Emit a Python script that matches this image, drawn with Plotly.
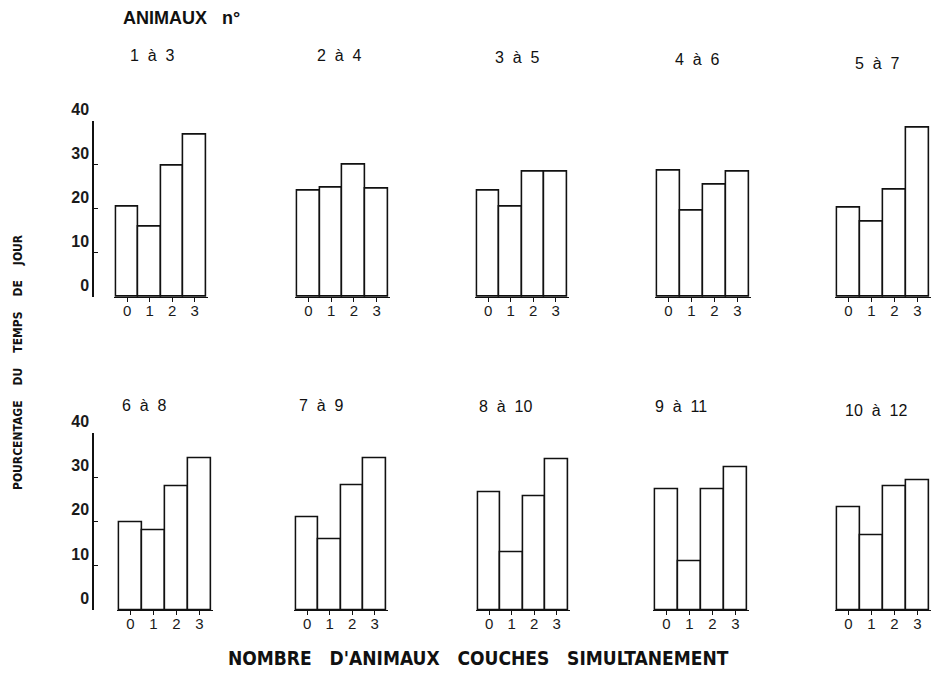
import plotly.graph_objects as go

W, H = 935, 695

categories = ["0", "1", "2", "3"]
cat_pos = [0, 1, 2, 3]

panel_titles = ["1 à 3", "2 à 4", "3 à 5", "4 à 6", "5 à 7",
                "6 à 8", "7 à 9", "8 à 10", "9 à 11", "10 à 12"]

values_1_3 = [20.5, 15.9, 29.9, 36.9]
values_2_4 = [24.1, 24.7, 30.0, 24.6]
values_3_5 = [24.1, 20.4, 28.5, 28.5]
values_4_6 = [28.6, 19.5, 25.5, 28.4]
values_5_7 = [20.2, 17.0, 24.3, 38.5]
values_6_8 = [19.9, 18.1, 28.1, 34.3]
values_7_9 = [21.0, 16.0, 28.2, 34.3]
values_8_10 = [26.6, 13.1, 25.8, 34.1]
values_9_11 = [27.4, 11.1, 27.3, 32.4]
values_10_12 = [23.2, 17.0, 28.1, 29.3]

all_values = [values_1_3, values_2_4, values_3_5, values_4_6, values_5_7,
              values_6_8, values_7_9, values_8_10, values_9_11, values_10_12]

y_ticks = [0, 10, 20, 30, 40]
y_ticktext = ["0", "10", "20", "30", "40"]


def fx(px):
    return px / W


def fy(py):
    return 1 - py / H


# pixel layout of panels (bar extents) and rows (baseline, top of axis)
x_extents = [(116, 206), (297, 388), (477, 567), (657, 749), (837, 929),
             (119, 211), (296, 386), (478, 568), (655, 747), (837, 929)]
row_extents = [(297, 120.7), (610, 433.3)]
pad = 0.08  # extra x-range on each side so outer bar edges are not clipped

fig = go.Figure()
layout = dict(
    width=W, height=H, autosize=False,
    margin=dict(l=0, r=0, t=0, b=0, pad=0, autoexpand=False),
    paper_bgcolor="white", plot_bgcolor="white",
    showlegend=False, bargap=0,
    font=dict(family="Liberation Sans, Arial, sans-serif", color="#1a1a1a"),
)

for i, vals in enumerate(all_values):
    n = i + 1
    sfx = "" if n == 1 else str(n)
    row = 0 if i < 5 else 1
    fig.add_trace(go.Bar(
        x=cat_pos, y=vals, width=1.0,
        marker=dict(color="white", line=dict(color="#111111", width=1.6)),
        xaxis="x" + sfx, yaxis="y" + sfx, hoverinfo="skip",
    ))
    x0, x1 = x_extents[i]
    unit = (x1 - x0) / 4.0
    base, top = row_extents[row]
    layout["xaxis" + sfx] = dict(
        domain=[fx(x0 - pad * unit), fx(x1 + pad * unit)], anchor="y" + sfx,
        range=[-0.5 - pad, 3.5 + pad], tickvals=cat_pos, ticktext=categories,
        showline=True, linecolor="#111111", linewidth=1,
        ticks="outside", ticklen=4, tickcolor="#111111", tickwidth=1.2,
        ticklabelstandoff=-4, automargin=False,
        showgrid=False, zeroline=False,
        tickfont=dict(size=15, color="#1a1a1a"), fixedrange=True,
    )
    ycfg = dict(
        domain=[fy(base), fy(top)], range=[0, 40], automargin=False,
        showgrid=False, zeroline=False, fixedrange=True,
    )
    if i in (0, 5):
        ycfg.update(
            anchor="free", position=fx(93),
            showline=True, linecolor="#111111", linewidth=1.5,
            ticks="inside", ticklen=4, tickcolor="#111111", tickwidth=1.2,
            tickvals=y_ticks, ticktext=y_ticktext,
            ticklabelposition="outside top",
            tickfont=dict(size=16, color="#1a1a1a",
                          family="Liberation Sans, Arial, sans-serif", weight="bold"),
        )
    else:
        ycfg.update(anchor="x" + sfx, visible=False)
    layout["yaxis" + sfx] = ycfg

title_pos = [(152, 56), (339, 56), (517, 58), (697, 59), (877, 64),
             (144, 405), (321, 405), (505, 407), (681, 407), (876, 410)]

annotations = []
for t, (px, py) in zip(panel_titles, title_pos):
    annotations.append(dict(
        text=t.replace(" ", "\u00a0\u00a0"), x=fx(px), y=fy(py),
        xref="paper", yref="paper", showarrow=False,
        xanchor="center", yanchor="middle",
        font=dict(size=16, color="#111111"),
    ))

annotations.append(dict(
    text="ANIMAUX\u00a0\u00a0\u00a0n°", x=fx(121), y=fy(18), xref="paper", yref="paper",
    showarrow=False, xanchor="left", yanchor="middle",
    font=dict(size=18, color="#111111", weight="bold"),
))

sp3 = "\u00a0\u00a0\u00a0"
annotations.append(dict(
    text=sp3.join(["NOMBRE", "D'ANIMAUX", "COUCHES", "SIMULTANEMENT"]),
    x=fx(478), y=fy(658), xref="paper", yref="paper",
    showarrow=False, xanchor="center", yanchor="middle",
    font=dict(size=19, color="#111111", weight="bold",
              family="DejaVu Sans Condensed, Liberation Sans Narrow, sans-serif"),
))

sp2 = "\u00a0\u00a0\u00a0\u00a0"
annotations.append(dict(
    text=sp2.join(["POURCENTAGE", "DU", "TEMPS", "DE", "JOUR"]),
    x=fx(18), y=fy(362), xref="paper", yref="paper", textangle=-90,
    showarrow=False, xanchor="center", yanchor="middle",
    font=dict(size=12, color="#111111", weight="bold",
              family="DejaVu Sans Condensed, Liberation Sans Narrow, sans-serif"),
))

layout["annotations"] = annotations
fig.update_layout(**layout)
fig.write_html("out.html", config={"responsive": False, "displayModeBar": False},
               post_script="document.body.style.margin='0px';document.body.style.overflow='hidden';")
